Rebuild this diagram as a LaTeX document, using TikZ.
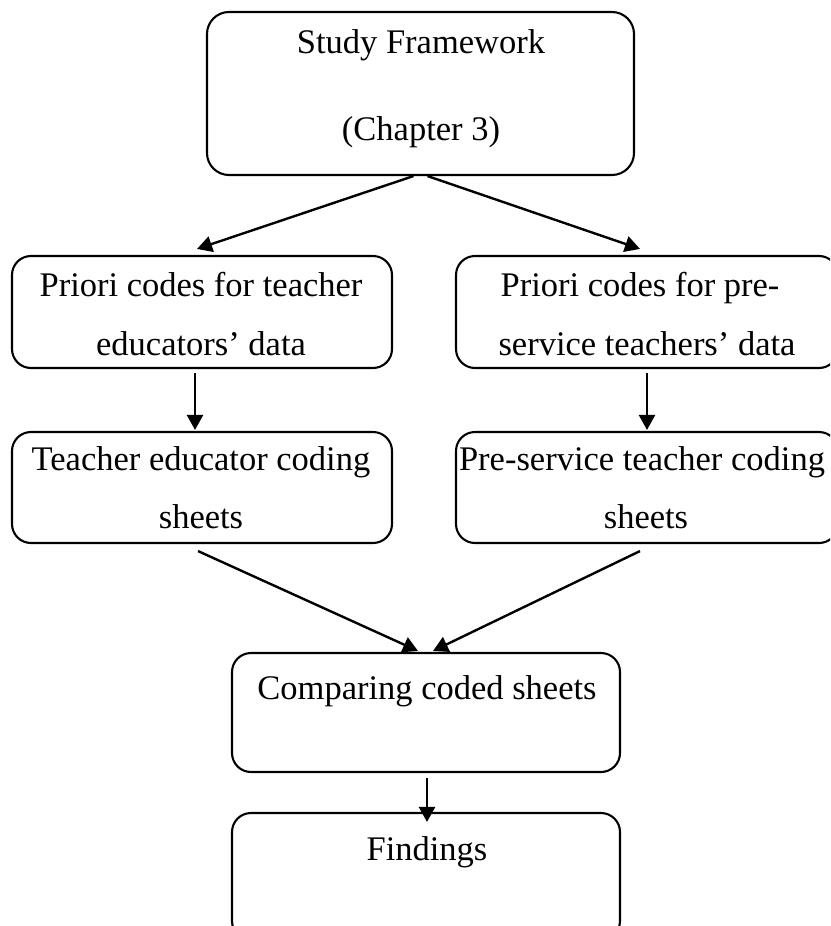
\documentclass[tikz,border=0pt]{standalone}
\usepackage{fontspec}
\setmainfont{Liberation Serif}
\usetikzlibrary{arrows.meta}
\begin{document}
\begin{tikzpicture}[x=1pt,y=-1pt,
  box/.style={draw,line width=2.1pt,rounded corners=19pt,inner sep=0pt},
  txt/.style={inner sep=0pt,anchor=base,font=\fontsize{34.5}{40}\selectfont},
  arr/.style={line width=2.4pt,-{Triangle[length=15pt,width=16pt]}}]
\useasboundingbox (0,0) rectangle (830,926);
\clip (0,0) rectangle (830,926);

% boxes
\node[box,rounded corners=22pt,minimum width=427pt,minimum height=163pt] (b1) at (420.5,93.5) {};
\node[box,minimum width=380pt,minimum height=112pt] (b2) at (202,312) {};
\node[box,minimum width=382pt,minimum height=112pt] (b3) at (647,312) {};
\node[box,minimum width=380pt,minimum height=111pt] (b4) at (202,487.5) {};
\node[box,minimum width=382pt,minimum height=111pt] (b5) at (647,487.5) {};
\node[box,minimum width=388pt,minimum height=119pt] (b6) at (426,712.5) {};
\node[box,minimum width=388pt,minimum height=127pt] (b7) at (426,876.5) {};

% box texts
\node[txt] (t1a) at (421,53) {Study Framework};
\node[txt] (t1b) at (421,140) {(Chapter 3)};
\node[txt] (t2a) at (201,296) {Priori codes for teacher};
\node[txt] (t2b) at (201,355) {educators’ data};
\node[txt] (t3a) at (640,296) {Priori codes for pre-};
\node[txt] (t3b) at (647,355) {service teachers’ data};
\node[txt] (t4a) at (201,470) {Teacher educator coding};
\node[txt] (t4b) at (201,528) {sheets};
\node[txt] (t5a) at (642,470) {Pre-service teacher coding};
\node[txt] (t5b) at (646,528) {sheets};
\node[txt] (t6) at (427,699) {Comparing coded sheets};
\node[txt] (t7) at (427,860) {Findings};

% connectors
\draw[arr] ([xshift=-7pt]b1.south) -- ([xshift=-5pt,yshift=6pt]b2.north);
\draw[arr] ([xshift=7pt]b1.south) -- ([xshift=-7pt,yshift=6pt]b3.north);
\draw[arr] ([xshift=-7pt,yshift=-4pt]b2.south) -- ([xshift=-7pt,yshift=1pt]b4.north);
\draw[arr] ([yshift=-4pt]b3.south) -- ([yshift=1pt]b5.north);
\draw[arr] ([xshift=-4pt,yshift=-7pt]b4.south) -- ([xshift=-8pt,yshift=1pt]b6.north);
\draw[arr] ([xshift=-7pt,yshift=-7pt]b5.south) -- ([xshift=7pt,yshift=1pt]b6.north);
\draw[arr] ([xshift=1pt,yshift=-5pt]b6.south) -- ([xshift=1pt,yshift=-10pt]b7.north);
\end{tikzpicture}
\end{document}
